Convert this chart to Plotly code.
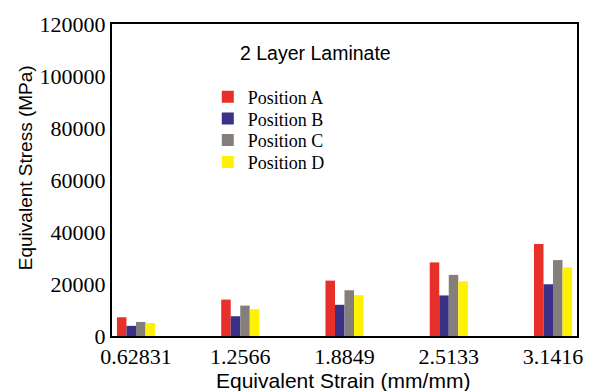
import plotly.graph_objects as go

categories = ["0.62831", "1.2566", "1.8849", "2.5133", "3.1416"]
pos_a = [7200, 14000, 21300, 28300, 35400]
pos_b = [3900, 7600, 12000, 15600, 19900]
pos_c = [5400, 11700, 17600, 23500, 29200]
pos_d = [5000, 10300, 15700, 21000, 26400]
series_names = ["Position A", "Position B", "Position C", "Position D"]
colors = ["#E8302A", "#3A3286", "#857F7B", "#FFF200"]
y_ticks = [0, 20000, 40000, 60000, 80000, 100000, 120000]

legend_ids = ["legend", "legend2", "legend3", "legend4"]
legend_rows = [0.766, 0.696, 0.627, 0.557]

fig = go.Figure()
for name, vals, col, lid in zip(series_names, [pos_a, pos_b, pos_c, pos_d], colors, legend_ids):
    fig.add_trace(go.Bar(x=categories, y=vals, name=name, marker_color=col,
                         marker_line_width=0, legend=lid))

legend_font = dict(family="Liberation Serif", size=18, color="black")
layout_legends = {}
for lid, yy in zip(legend_ids, legend_rows):
    layout_legends[lid] = dict(x=0.206, y=yy, xanchor="left", yanchor="middle",
                               font=legend_font, bgcolor="rgba(0,0,0,0)",
                               itemwidth=30)

fig.update_layout(
    width=595, height=391,
    margin=dict(l=112, r=17, t=20, b=55),
    paper_bgcolor="white", plot_bgcolor="white",
    barmode="group", bargap=0.635, bargroupgap=0,
    showlegend=True,
    annotations=[
        dict(text="2 Layer Laminate", x=0.438, y=0.907, xref="paper", yref="paper",
             showarrow=False, xanchor="center", yanchor="middle",
             font=dict(family="Liberation Sans", size=19.5, color="black")),
        dict(text="Equivalent Strain (mm/mm)", x=0.497, y=-0.142, xref="paper", yref="paper",
             showarrow=False, xanchor="center", yanchor="middle",
             font=dict(family="Liberation Sans", size=21, color="black")),
        dict(text="Equivalent Stress (MPa)", x=-0.187, y=0.538, xref="paper", yref="paper",
             showarrow=False, xanchor="center", yanchor="middle", textangle=-90,
             font=dict(family="Liberation Sans", size=19, color="black")),
    ],
    **layout_legends,
)
fig.update_xaxes(
    type="category", range=[-0.23, 4.23],
    showline=True, linecolor="black", linewidth=2, mirror=True,
    ticks="", tickfont=dict(family="Liberation Serif", size=22, color="black"),
    showgrid=False,
)
fig.update_yaxes(
    range=[0, 120000], tickvals=y_ticks, ticktext=[str(v) for v in y_ticks],
    showline=True, linecolor="black", linewidth=2, mirror=True,
    ticks="", tickfont=dict(family="Liberation Serif", size=22, color="black"),
    showgrid=False, zeroline=False,
)

fig.write_html("out.html")
